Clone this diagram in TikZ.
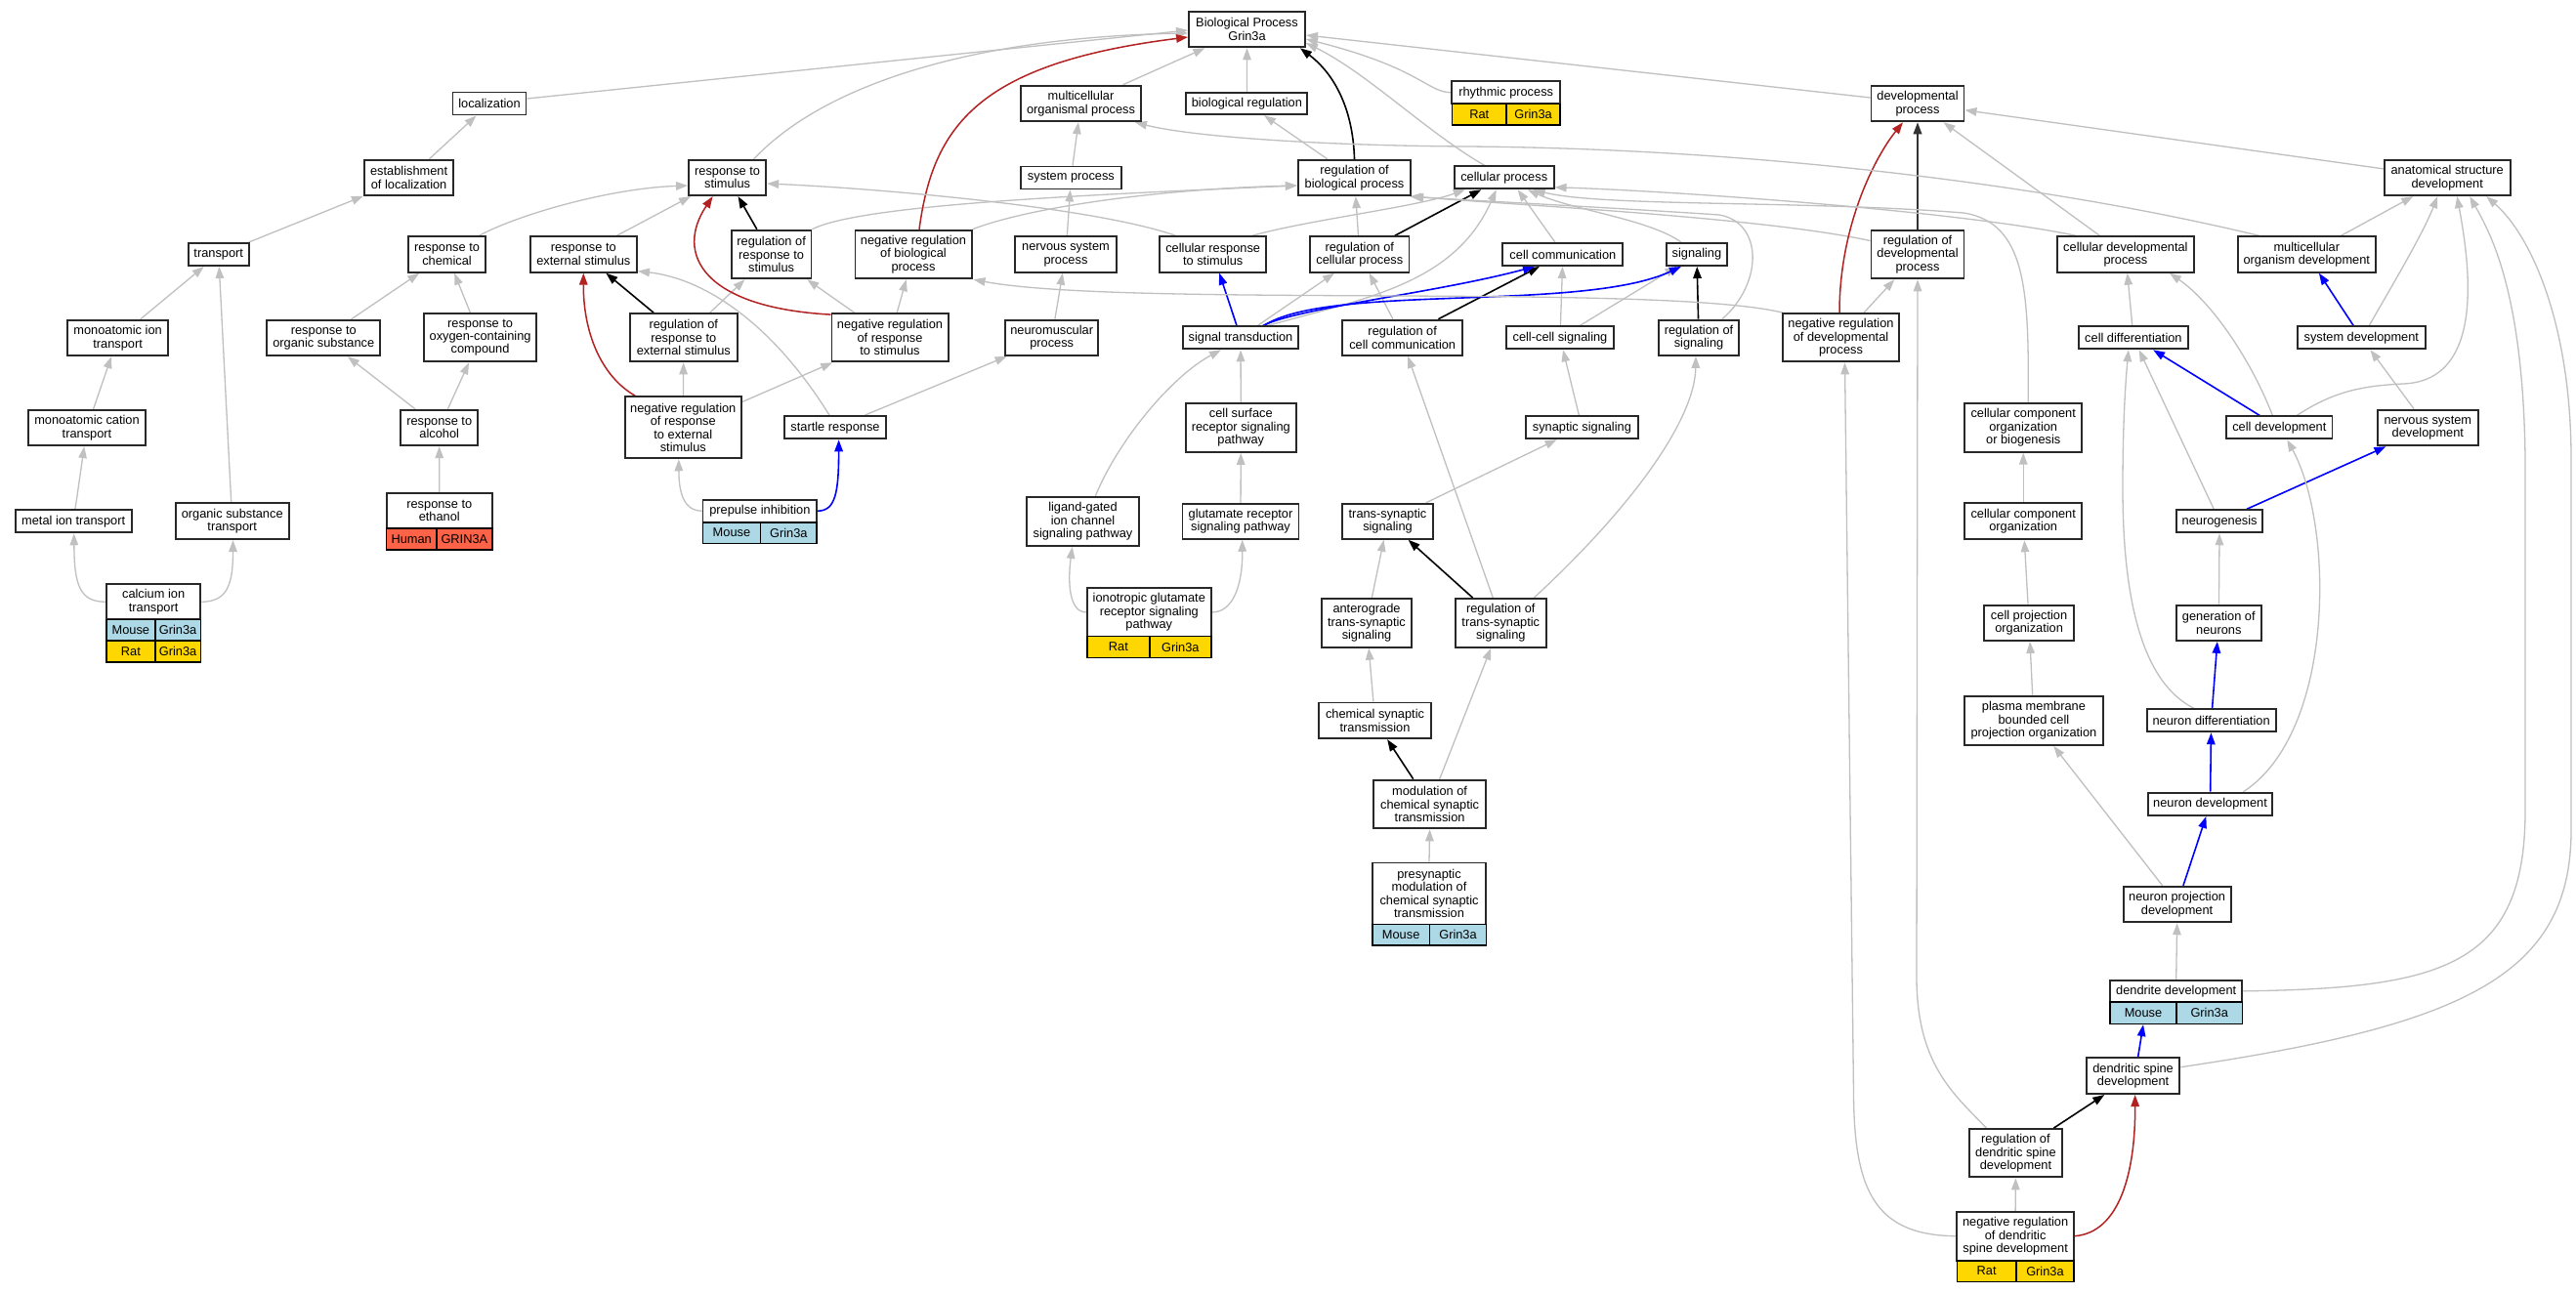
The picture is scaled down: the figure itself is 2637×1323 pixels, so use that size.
\documentclass[tikz,border=0pt]{standalone}
\usepackage{fontspec}
\setmainfont{Liberation Sans}
\usetikzlibrary{arrows.meta,calc,backgrounds}
\definecolor{edgegray}{RGB}{192,192,192}
\definecolor{firebrick}{RGB}{178,34,34}
\definecolor{lblue}{RGB}{173,216,230}
\definecolor{gold}{RGB}{255,215,0}
\definecolor{tomato}{RGB}{255,99,71}
\definecolor{boxline}{RGB}{40,40,40}
\newcommand{\gofont}{\fontsize{12.8pt}{13.4pt}\selectfont}
\newcommand{\gonode}[6]{\node[gobox,minimum width=#4pt,minimum height=#5pt] (#1) at (#2,#3) {#6};}
\newcommand{\gocell}[7]{\node[gocellbox,fill=#6,minimum width=#4pt,minimum height=#5pt] (#1) at (#2,#3) {#7};}
\begin{document}
\begin{tikzpicture}[x=1pt,y=-1pt,
  >={Triangle[length=12pt,width=8.5pt]},
  gobox/.style={draw=boxline,line width=1.9pt,fill=white,inner sep=0pt,align=center,font=\gofont,text=black},
  gocellbox/.style={draw=black,line width=1.6pt,inner sep=0pt,font=\gofont,text=black},
  edgegr/.style={draw=edgegray,line width=1.3pt,->},
  edgebk/.style={draw=black,line width=1.6pt,->},
  edgerd/.style={draw=firebrick,line width=1.5pt,->},
  edgebl/.style={draw=blue,line width=1.6pt,->}]
\useasboundingbox (0,0) rectangle (2637,1323);
% ---------------- nodes ----------------
\gonode{bp}{1276.5}{30}{119}{36.6}{Biological Process\\Grin3a}
\gonode{loc}{501}{106}{75}{23}{localization}
\gonode{mop}{1106.5}{106}{123}{36.6}{multicellular\\organismal process}
\gonode{br}{1276.4}{106}{124}{22.4}{biological regulation}
\gonode{rhy}{1541.7}{94.8}{110.7}{23}{rhythmic process}
\gocell{rhy1}{1514.3}{117.2}{55.9}{21.7}{gold}{Rat}
\gocell{rhy2}{1569.6}{117.2}{54.8}{21.7}{gold}{Grin3a}
\gonode{dp}{1963}{106}{95}{36.6}{developmental\\process}
\gonode{est}{418.6}{182}{91.4}{36.3}{establishment\\of localization}
\gonode{rs}{744.6}{182}{79.2}{36.3}{response to\\stimulus}
\gonode{sp}{1096.4}{182}{102.8}{23}{system process}
\gonode{rbp}{1386.5}{182}{115.4}{36.3}{regulation of\\biological process}
\gonode{cp}{1539.7}{181.8}{101.8}{23}{cellular process}
\gonode{asd}{2505.2}{182}{128.8}{36.3}{anatomical structure\\development}
\gonode{tra}{223.7}{260.5}{61.8}{23}{transport}
\gonode{rchem}{457.5}{260.5}{79}{36.4}{response to\\chemical}
\gonode{rese}{597.3}{260.5}{109.4}{36.4}{response to\\external stimulus}
\gonode{rrs}{789.6}{260.5}{81.7}{49.6}{regulation of\\response to\\stimulus}
\gonode{nrbp}{935}{260.5}{119.1}{49.6}{negative regulation\\of biological\\process}
\gonode{nsp}{1091}{260.5}{103.6}{36.4}{nervous system\\process}
\gonode{crs}{1241.7}{260.5}{108.6}{36.4}{cellular response\\to stimulus}
\gonode{rcp}{1391.8}{260.5}{101.4}{36.4}{regulation of\\cellular process}
\gonode{cc}{1599.9}{260.5}{123}{23}{cell communication}
\gonode{sig}{1736.9}{260.5}{61.8}{23}{signaling}
\gonode{rdp}{1963}{260.5}{95}{49.6}{regulation of\\developmental\\process}
\gonode{cdp}{2175.9}{260.5}{139.3}{36.4}{cellular developmental\\process}
\gonode{mod}{2361.3}{260.5}{141.4}{36.4}{multicellular\\organism development}
\gonode{mit}{120.6}{346}{103}{36.3}{monoatomic ion\\transport}
\gonode{ros}{331.3}{346}{116.2}{36.3}{response to\\organic substance}
\gonode{roc}{491.6}{345.7}{115.3}{49.3}{response to\\oxygen-containing\\compound}
\gonode{rrese}{699.8}{345.7}{110}{49.3}{regulation of\\response to\\external stimulus}
\gonode{nrrs}{911}{345.7}{119.1}{49.3}{negative regulation\\of response\\to stimulus}
\gonode{nmp}{1076.7}{345.8}{95.2}{36.3}{neuromuscular\\process}
\gonode{st}{1270}{345.8}{118.8}{23}{signal transduction}
\gonode{rcc}{1435.7}{345.8}{123}{36.3}{regulation of\\cell communication}
\gonode{ccs}{1597}{345.8}{110.3}{23}{cell-cell signaling}
\gonode{rsig}{1739}{345.8}{81.2}{36.3}{regulation of\\signaling}
\gonode{nrdp}{1884.5}{345.7}{119.5}{49.3}{negative regulation\\of developmental\\process}
\gonode{cdiff}{2183.9}{345.8}{112.3}{23}{cell differentiation}
\gonode{sysd}{2417.3}{345.8}{131.3}{23}{system development}
\gonode{mct}{89}{438}{119.6}{36.3}{monoatomic cation\\transport}
\gonode{ralc}{449.7}{438}{78.6}{36.3}{response to\\alcohol}
\gonode{nrrese}{699.3}{437.8}{119.2}{63}{negative regulation\\of response\\to external\\stimulus}
\gonode{stl}{855}{437.7}{103.2}{23.3}{startle response}
\gonode{csr}{1270.3}{438}{112.8}{49.8}{cell surface\\receptor signaling\\pathway}
\gonode{ss}{1619.4}{437.7}{115}{23}{synaptic signaling}
\gonode{ccoob}{2071.2}{437.7}{120.3}{50}{cellular component\\organization\\or biogenesis}
\gonode{cdev}{2333.3}{437.8}{108.4}{23}{cell development}
\gonode{nsd}{2485.3}{438}{103.4}{36.6}{nervous system\\development}
\gonode{metal}{75.2}{533.8}{119}{23}{metal ion transport}
\gonode{ost}{237.7}{533.7}{116.1}{36.7}{organic substance\\transport}
\gonode{eth}{449.8}{522.85}{108.4}{36.3}{response to\\ethanol}
\gocell{eth1}{421.15}{552}{51.1}{22}{tomato}{Human}
\gocell{eth2}{475.35}{552}{57.3}{22}{tomato}{GRIN3A}
\gonode{pp}{777.85}{523.2}{116.7}{23}{prepulse inhibition}
\gocell{pp1}{748.95}{545.5}{58.9}{21.6}{lblue}{Mouse}
\gocell{pp2}{807.3}{545.5}{57.8}{21.6}{lblue}{Grin3a}
\gonode{lg}{1108.5}{534}{114.5}{50}{ligand-gated\\ion channel\\signaling pathway}
\gonode{glut}{1270}{533.8}{119}{36}{glutamate receptor\\signaling pathway}
\gonode{ts}{1420.5}{533.8}{93}{36}{trans-synaptic\\signaling}
\gonode{cco}{2071.2}{533.8}{120.3}{37}{cellular component\\organization}
\gonode{neuro}{2272.1}{533.8}{88.2}{23}{neurogenesis}
\gonode{ca}{157.15}{616.3}{96.5}{36}{calcium ion\\transport}
\gocell{ca1}{133.85}{645.15}{49.9}{21.7}{lblue}{Mouse}
\gocell{ca2}{182.1}{645.15}{46.6}{21.7}{lblue}{Grin3a}
\gocell{ca3}{133.85}{666.85}{49.9}{21.7}{gold}{Rat}
\gocell{ca4}{182.1}{666.85}{46.6}{21.7}{gold}{Grin3a}
\gonode{igr}{1176.3}{626.95}{126.8}{49.3}{ionotropic glutamate\\receptor signaling\\pathway}
\gocell{igr1}{1144.9}{662.5}{64}{21.8}{gold}{Rat}
\gocell{igr2}{1208.3}{662.5}{62.8}{21.8}{gold}{Grin3a}
\gonode{ats}{1399}{637.9}{92}{49.7}{anterograde\\trans-synaptic\\signaling}
\gonode{rts}{1536.3}{637.9}{92.6}{49.7}{regulation of\\trans-synaptic\\signaling}
\gonode{cpo}{2077.1}{637.8}{91.6}{36.3}{cell projection\\organization}
\gonode{gon}{2271.3}{637.8}{86.5}{36.3}{generation of\\neurons}
\gonode{cst}{1407.5}{737.8}{115.6}{36.7}{chemical synaptic\\transmission}
\gonode{pmb}{2081.9}{737.8}{141.6}{50.3}{plasma membrane\\bounded cell\\projection organization}
\gonode{ndiff}{2263.6}{737.8}{132.1}{23}{neuron differentiation}
\gonode{mcst}{1463.6}{823.5}{115.6}{49.7}{modulation of\\chemical synaptic\\transmission}
\gonode{ndev}{2262.5}{823.3}{127.5}{23.3}{neuron development}
\gonode{pm}{1463}{915}{116.7}{63}{presynaptic\\modulation of\\chemical synaptic\\transmission}
\gocell{pm1}{1434.15}{957.3}{58.9}{21.4}{lblue}{Mouse}
\gocell{pm2}{1492.5}{957.3}{57.8}{21.4}{lblue}{Grin3a}
\gonode{npd}{2228.6}{926}{110.1}{36.6}{neuron projection\\development}
\gonode{dd}{2227.7}{1014.85}{135.4}{22.3}{dendrite development}
\gocell{dd1}{2194}{1037.15}{68}{22.3}{lblue}{Mouse}
\gocell{dd2}{2261.7}{1037.15}{67.4}{22.3}{lblue}{Grin3a}
\gonode{dsd}{2183.6}{1101.7}{95.6}{36.7}{dendritic spine\\development}
\gonode{rdsd}{2063.4}{1180.7}{95.5}{49.3}{regulation of\\dendritic spine\\development}
\gonode{nrdsd}{2063.1}{1265.7}{119.6}{50}{negative regulation\\of dendritic\\spine development}
\gocell{nrdsd1}{2033.65}{1301.5}{60.7}{21.6}{gold}{Rat}
\gocell{nrdsd2}{2093.45}{1301.5}{58.9}{21.6}{gold}{Grin3a}
% ---------------- edges ----------------
\begin{pgfonlayer}{background}
\fill[white] (0,0) rectangle (2637,1323);
% localization / transport
\draw[edgegr] ($(loc.east)+(0,-5)$) -- ($(bp.west)+(0,1)$);
\draw[edgegr] (est) -- (loc);
\draw[edgegr] (tra) -- (est);
\draw[edgegr] (mit) -- (tra);
\draw[edgegr] (mct) -- (mit);
\draw[edgegr] (metal) -- (mct);
\draw[edgegr] (ost) -- (tra);
\draw[edgegr] (ca.west) .. controls (82,616) and (76,600) .. ($(metal.south)+(0.6,0)$);
\draw[edgegr] (ca.east) .. controls (232,616) and (238.5,600) .. ($(ost.south)+(0.8,0)$);
% response
\draw[edgegr] ($(rs.north)+(27,0)$) .. controls (845,85) and (1000,38) .. ($(bp.west)+(0,4)$);
\draw[edgegr] ($(rchem.north)+(33,0)$) .. controls (525,222) and (620,193) .. ($(rs.west)+(0,8)$);
\draw[edgegr] ($(rese.north)+(34,0)$) -- ($(rs.south west)+(3,0)$);
\draw[edgegr] (ros) -- (rchem);
\draw[edgegr] (roc) -- (rchem);
\draw[edgegr] (ralc) -- (ros);
\draw[edgegr] (ralc) -- (roc);
\draw[edgegr] (eth.north) -- (ralc.south);
\draw[edgebk] (rrese) -- (rese);
\draw[edgegr] (rrese) -- (rrs);
\draw[edgerd] ($(nrrese.north)+(-49,0)$) .. controls (615,385) and (597,340) .. (rese.south);
\draw[edgegr] (nrrese) -- (rrese);
\draw[edgegr] (nrrese) -- (nrrs);
\draw[edgegr] (pp.west) .. controls (700,523) and (695,505) .. ($(nrrese.south)+(-4.5,0)$);
\draw[edgebl] (pp.east) .. controls (855,523) and (858.6,505) .. ($(stl.south)+(3.6,0)$);
\draw[edgegr] ($(stl.north)+(-6,0)$) .. controls (790,330) and (720,285) .. ($(rese.south east)+(0,-2)$);
\draw[edgegr] (stl) -- (nmp);
\draw[edgebk] (rrs) -- (rs);
\draw[edgegr] (rrs.north east) .. controls (880,210) and (1100,200) .. ($(rbp.west)+(0,8)$);
\draw[edgegr] (nrrs) -- (rrs);
\draw[edgegr] (nrrs) -- (nrbp);
\draw[edgerd] ($(nrrs.north west)+(0,2)$) .. controls (720,315) and (690,260) .. ($(rs.south)+(-15,0)$);
\draw[edgerd] ($(nrbp.north)+(6,0)$) .. controls (955,130) and (1000,65) .. ($(bp.west)+(0,8)$);
\draw[edgegr] (nrbp.north east) .. controls (1060,210) and (1200,193) .. ($(rbp.west)+(0,8)$);
% top level
\draw[edgegr] (mop) -- (bp);
\draw[edgegr] (sp) -- (mop);
\draw[edgegr] (nsp) -- (sp);
\draw[edgegr] (nmp) -- (nsp);
\draw[edgegr] (br) -- (bp);
\draw[edgegr] (rbp) -- (br);
\draw[edgebk] (rbp.north) .. controls (1385,110) and (1365,75) .. ($(bp.south east)+(-6,0)$);
\draw[edgegr] ($(cp.north)+(-20,0)$) .. controls (1460,135) and (1400,75) .. ($(bp.east)+(0,14)$);
\draw[edgegr] (rhy.west) .. controls (1460,94) and (1455,70) .. ($(bp.east)+(0,10)$);
\draw[edgegr] ($(dp.west)+(0,-6)$) -- ($(bp.east)+(0,6)$);
% cellular
\draw[edgegr] ($(crs.north)+(-38,0)$) .. controls (1120,212) and (900,193) .. ($(rs.east)+(0,6)$);
\draw[edgegr] ($(crs.north)+(40,0)$) .. controls (1340,225) and (1450,212) .. ($(cp.south west)+(12,0)$);
\draw[edgegr] (rcp) -- (rbp);
\draw[edgebk] (rcp) -- (cp);
\draw[edgegr] (rcc) -- (rcp);
\draw[edgebk] (rcc) -- (cc);
\draw[edgegr] ($(cc.north)+(-8,0)$) -- ($(cp.south)+(14,0)$);
\draw[edgegr] ($(sig.north)+(-16,0)$) .. controls (1690,225) and (1610,215) .. ($(cp.south)+(24,0)$);
\draw[edgegr] (ccs) -- (cc);
\draw[edgegr] (ccs) -- (sig);
\draw[edgebk] (rsig) -- (sig);
\draw[edgegr] ($(rsig.north)+(24,0)$) .. controls (1805,290) and (1805,228) .. (1760,220) .. controls (1640,212) and (1500,205) .. ($(rbp.south east)+(-2,0)$);
\draw[edgegr] ($(st.north)+(17.5,0)$) -- ($(rcp.south)+(-25.8,0)$);
\draw[edgegr] ($(st.north)+(28,0)$) .. controls (1400,305) and (1490,290) .. ($(cp.south)+(-8,0)$);
\draw[edgebl] ($(st.north)+(-4,0)$) -- ($(crs.south)+(6.5,0)$);
\draw[edgebl] ($(st.north)+(23,0)$) .. controls (1330,315) and (1470,300) .. ($(cc.south)+(-29,0)$);
\draw[edgebl] ($(st.north)+(24,0)$) .. controls (1360,290) and (1620,320) .. ($(sig.south)+(-16,0)$);
\draw[edgegr] (csr) -- (st);
\draw[edgegr] (glut) -- (csr);
\draw[edgegr] ($(lg.north)+(12.8,0)$) .. controls (1145,450) and (1200,385) .. ($(st.south)+(-20,0)$);
\draw[edgegr] (igr.west) .. controls (1094,627) and (1093,595) .. ($(lg.south)+(-10.8,0)$);
\draw[edgegr] (igr.east) .. controls (1262,627) and (1272,600) .. ($(glut.south)+(1.7,0)$);
% synaptic
\draw[edgegr] (ss) -- (ccs);
\draw[edgegr] (ts) -- (ss);
\draw[edgegr] (ats) -- (ts);
\draw[edgebk] (rts) -- (ts);
\draw[edgegr] ($(rts.north)+(-8,0)$) -- ($(rcc.south)+(5.5,0)$);
\draw[edgegr] ($(rts.north)+(34,0)$) .. controls (1670,520) and (1735,430) .. ($(rsig.south)+(-3,0)$);
\draw[edgegr] (cst) -- (ats);
\draw[edgebk] (mcst) -- (cst);
\draw[edgegr] (mcst) -- (rts);
\draw[edgegr] (pm.north) -- (mcst.south);
% developmental
\draw[edgebk,draw=black!80,line width=2pt] (rdp) -- (dp);
\draw[edgegr] ($(rdp.west)+(0,-14)$) .. controls (1800,222) and (1550,210) .. (rbp.south east);
\draw[edgegr] (nrdp) -- (rdp);
\draw[edgerd] ($(nrdp.north)+(-1.5,0)$) .. controls (1883,230) and (1920,160) .. ($(dp.south)+(-15,0)$);
\draw[edgegr] ($(nrdp.north west)+(1,0)$) .. controls (1700,290) and (1150,315) .. ($(nrbp.south east)+(1,0)$);
\draw[edgegr] (asd) -- (dp);
\draw[edgegr] (cdp) -- (dp);
\draw[edgegr] ($(cdp.north west)+(20,0)$) .. controls (2000,215) and (1700,195) .. ($(cp.east)+(0,10)$);
\draw[edgegr] ($(mod.north west)+(23,0)$) .. controls (2100,190) and (1800,152) .. (1500,150) .. controls (1350,149) and (1220,140) .. ($(mop.south east)+(-7,0)$);
\draw[edgegr] (mod) -- (asd);
\draw[edgebl] (sysd) -- (mod);
\draw[edgegr] ($(sysd.north)+(8,0)$) .. controls (2450,290) and (2480,240) .. ($(asd.south)+(-10,0)$);
\draw[edgegr] (nsd) -- (sysd);
\draw[edgegr] (cdiff) -- (cdp);
\draw[edgebl] (cdev) -- (cdiff);
\draw[edgegr] ($(cdev.north)+(-7,0)$) .. controls (2305,370) and (2265,310) .. ($(cdp.south)+(45,0)$);
\draw[edgegr] ($(cdev.north)+(18,0)$) .. controls (2390,400) and (2420,395) .. (2460,393) .. controls (2545,390) and (2528,270) .. ($(asd.south)+(10,0)$);
\draw[edgebl] (neuro) -- (nsd);
\draw[edgegr] (neuro) -- (cdiff);
\draw[edgegr] (gon) -- (neuro);
\draw[edgebl] (ndiff) -- (gon);
\draw[edgegr] ($(ndiff.north)+(-17.6,0)$) .. controls (2195,700) and (2173,620) .. (2173,500) .. controls (2173,430) and (2176,390) .. ($(cdiff.south)+(-5,0)$);
\draw[edgebl] (ndev) -- (ndiff);
\draw[edgegr] ($(ndev.north)+(34,0)$) .. controls (2390,750) and (2390,540) .. ($(cdev.south)+(8,0)$);
\draw[edgebl] (npd) -- (ndev);
\draw[edgegr] (npd) -- (pmb);
\draw[edgegr] (pmb) -- (cpo);
\draw[edgegr] (cpo) -- (cco);
\draw[edgegr] (cco) -- (ccoob);
\draw[edgegr] ($(ccoob.north)+(5,0)$) .. controls (2077,300) and (2075,228) .. (2010,218) .. controls (1850,205) and (1640,212) .. ($(cp.south)+(30,0)$);
\draw[edgegr] (dd.north) -- (npd.south);
\draw[edgegr] (dd.east) .. controls (2500,1012) and (2585,990) .. (2585,830) -- (2585,470) .. controls (2583,300) and (2550,240) .. ($(asd.south)+(23,0)$);
\draw[edgebl] ($(dsd.north)+(5,0)$) -- (dd1.south);
\draw[edgegr] ($(dsd.east)+(0,-9)$) .. controls (2520,1050) and (2632,1000) .. (2632,850) -- (2632,470) .. controls (2632,330) and (2590,240) .. ($(asd.south)+(40,0)$);
\draw[edgebk] (rdsd) -- (dsd);
\draw[edgegr] ($(rdsd.north)+(-30,0)$) .. controls (2000,1120) and (1962,1090) .. (1962,1000) -- (rdp.south);
\draw[edgegr] (nrdsd.north) -- (rdsd.south);
\draw[edgerd] (nrdsd.east) .. controls (2170,1262) and (2186,1200) .. ($(dsd.south)+(2,0)$);
\draw[edgegr] (nrdsd.west) .. controls (1920,1265) and (1898,1220) .. (1897.5,1120) -- ($(nrdp.south)+(4,0)$);
\end{pgfonlayer}
\end{tikzpicture}
\end{document}
